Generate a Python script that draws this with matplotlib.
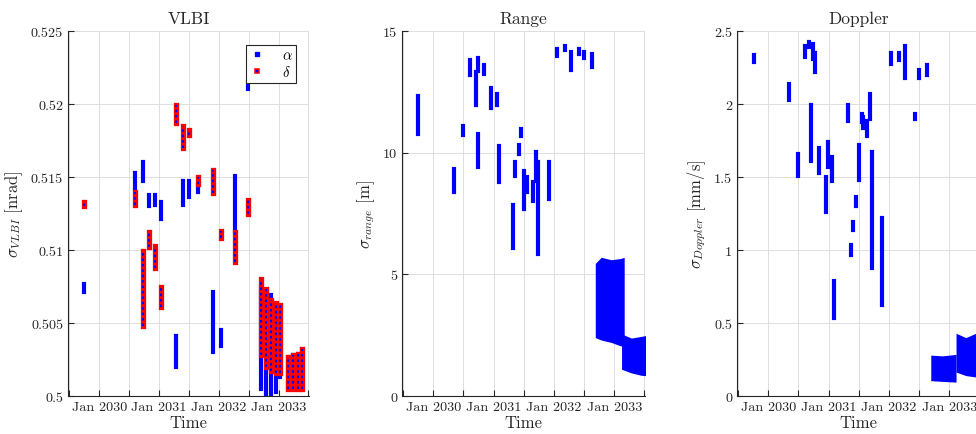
import numpy as np
import matplotlib
matplotlib.use('Agg')
import matplotlib.pyplot as plt
import matplotlib.dates as mdates
from matplotlib.lines import Line2D
from matplotlib.ticker import FuncFormatter, MultipleLocator

plt.rcParams['font.family'] = 'cmr10'
plt.rcParams['mathtext.fontset'] = 'cm'
plt.rcParams['axes.unicode_minus'] = False
plt.rcParams['axes.formatter.use_mathtext'] = True

# VLBI arcs: time, alpha range, delta range (nrad)
vlbi_t = ['2029-10-01', '2030-08-07', '2030-09-25', '2030-11-01', '2030-12-07', '2031-01-13',
          '2031-04-18', '2031-05-25', '2031-07-01', '2031-08-25', '2031-11-25', '2032-01-13',
          '2032-04-07', '2032-06-28', '2032-09-18', '2032-10-18', '2032-11-13', '2032-12-13',
          '2033-01-10', '2033-03-01', '2033-04-01', '2033-05-01', '2033-05-25']
alpha_lo = [0.5071, 0.5142, 0.5147, 0.5130, 0.5131, 0.5121, 0.5020, 0.5131, 0.5136, 0.5140,
            0.5030, 0.5034, 0.5112, 0.5210, 0.5005, 0.5001, 0.5001, 0.5003, 0.5013,
            0.5005, 0.5005, 0.5005, 0.5005]
alpha_hi = [0.5077, 0.5153, 0.5160, 0.5138, 0.5138, 0.5133, 0.5041, 0.5147, 0.5147, 0.5145,
            0.5071, 0.5045, 0.5151, 0.5215, 0.5075, 0.5060, 0.5069, 0.5060, 0.5060,
            0.5027, 0.5028, 0.5029, 0.5032]
delta_lo = [0.5130, 0.5131, 0.5048, 0.5102, 0.5088, 0.5061, 0.5187, 0.5170, 0.5179, 0.5145,
            0.5139, 0.5108, 0.5092, 0.5125, 0.5028, 0.5020, 0.5017, 0.5016, 0.5016,
            0.5005, 0.5005, 0.5005, 0.5005]
delta_hi = [0.5133, 0.5140, 0.5099, 0.5112, 0.5103, 0.5075, 0.5199, 0.5185, 0.5182, 0.5150,
            0.5155, 0.5113, 0.5112, 0.5134, 0.5080, 0.5073, 0.5066, 0.5064, 0.5062,
            0.5027, 0.5028, 0.5029, 0.5032]

# Range arcs (m)
range_t = ['2029-10-01', '2030-05-07', '2030-07-01', '2030-08-13', '2030-09-13', '2030-10-01',
           '2030-10-01', '2030-11-01', '2030-12-13', '2031-01-19', '2031-02-01', '2031-04-25',
           '2031-05-13', '2031-06-01', '2031-06-13', '2031-07-01', '2031-07-19', '2031-08-25',
           '2031-09-13', '2031-09-25', '2031-12-01', '2032-01-19', '2032-03-07', '2032-04-13',
           '2032-06-01', '2032-07-01', '2032-08-19']
range_lo = [10.77, 8.38, 10.73, 13.19, 11.96, 13.36, 9.41, 13.23, 11.83, 11.96, 8.80, 6.08,
            9.04, 9.95, 10.69, 7.69, 8.38, 8.00, 8.84, 5.84, 8.10, 13.97, 14.22, 13.40,
            14.06, 13.89, 13.52]
range_hi = [12.33, 9.33, 11.10, 13.81, 13.30, 13.90, 10.77, 13.60, 12.64, 12.40, 10.28, 7.85,
            9.60, 10.30, 10.97, 9.25, 9.00, 8.80, 10.03, 9.60, 9.60, 14.26, 14.38, 14.14,
            14.26, 14.14, 14.06]
# dense 2033 arcs (envelopes)
range_a_t = ['2032-09-07', '2032-10-13', '2032-12-13', '2033-02-07', '2033-03-01']
range_a_lo = [2.40, 2.30, 2.20, 2.06, 2.06]
range_a_hi = [5.45, 5.70, 5.60, 5.65, 5.70]
range_b_t = ['2033-02-13', '2033-04-13', '2033-06-13', '2033-07-20']
range_b_lo = [1.10, 0.95, 0.85, 0.83]
range_b_hi = [2.55, 2.38, 2.45, 2.50]

# Doppler arcs (mm/s)
dop_t = ['2029-10-03', '2030-05-04', '2030-07-01', '2030-08-13', '2030-09-04', '2030-09-16',
         '2030-10-01', '2030-10-13', '2030-11-04', '2030-12-13', '2030-12-28', '2031-01-19',
         '2031-02-04', '2031-04-28', '2031-05-16', '2031-05-28', '2031-06-16', '2031-07-04',
         '2031-07-19', '2031-07-25', '2031-08-22', '2031-09-07', '2031-09-22', '2031-11-22',
         '2032-01-13', '2032-03-04', '2032-04-10', '2032-06-04', '2032-06-28', '2032-08-16']
dop_lo = [2.285, 2.03, 1.509, 2.32, 2.388, 1.61, 2.31, 2.22, 1.53, 1.26, 1.57, 1.47,
          0.534, 1.886, 0.966, 1.137, 1.30, 1.48, 1.875, 1.836, 1.78, 1.90, 0.877, 0.623,
          2.274, 2.30, 2.176, 1.897, 2.176, 2.20]
dop_hi = [2.335, 2.137, 1.658, 2.40, 2.427, 1.99, 2.41, 2.35, 1.70, 1.50, 1.74, 1.64,
          0.79, 1.99, 1.034, 1.194, 1.363, 1.72, 1.93, 1.91, 1.886, 2.07, 1.67, 1.22,
          2.35, 2.35, 2.395, 1.93, 2.233, 2.267]
dop_a_t = ['2032-09-10', '2032-11-20', '2033-02-10']
dop_a_lo = [0.105, 0.10, 0.095]
dop_a_hi = [0.28, 0.275, 0.285]
dop_b_t = ['2033-02-10', '2033-04-10', '2033-06-10', '2033-08-01']
dop_b_lo = [0.164, 0.14, 0.13, 0.13]
dop_b_hi = [0.43, 0.40, 0.43, 0.43]


def d(lst):
    return mdates.date2num(np.array(lst, dtype='datetime64[D]'))


def fmt(v, pos):
    return '%g' % round(v, 6)


def style_axes(ax, title, ylab, ylim, ystep):
    ax.set_xlim(d(['2029-06-25'])[0], d(['2033-07-05'])[0])
    ax.set_ylim(*ylim)
    ax.yaxis.set_major_locator(MultipleLocator(ystep))
    ax.yaxis.set_major_formatter(FuncFormatter(fmt))
    ax.xaxis.set_major_locator(mdates.MonthLocator(bymonth=1))
    ax.xaxis.set_minor_locator(mdates.MonthLocator(bymonth=7))
    ax.xaxis.set_major_formatter(mdates.DateFormatter('%b %Y'))
    ax.grid(True, which='both', color='#dedede', lw=0.7)
    ax.set_axisbelow(True)
    for s in ['top', 'right']:
        ax.spines[s].set_visible(False)
    for s in ['left', 'bottom']:
        ax.spines[s].set_color('#262626')
        ax.spines[s].set_linewidth(0.8)
    ax.tick_params(which='both', direction='in', length=4, colors='#262626',
                   labelsize=10.2, width=0.8)
    ax.set_title(title, fontsize=12.5, color='#262626')
    ax.set_xlabel('Time', fontsize=12, color='#262626', labelpad=1)
    ax.set_ylabel(ylab, fontsize=12, color='#262626')


def bars(ax, t, lo, hi, color, lw):
    lc = ax.vlines(d(t), lo, hi, colors=color, linewidth=lw)
    lc.set_capstyle('projecting')
    return lc


fig = plt.figure(figsize=(9.76, 4.35), dpi=100)
h = 365 / 435
b = 38 / 435
ax1 = fig.add_axes([68 / 976, b, 241 / 976, h])
ax2 = fig.add_axes([402 / 976, b, 243 / 976, h])
ax3 = fig.add_axes([737 / 976, b, 243 / 976, h])

# VLBI
bars(ax1, vlbi_t, alpha_lo, alpha_hi, 'blue', 3.0)
bars(ax1, vlbi_t, delta_lo, delta_hi, 'red', 3.8)
ax1.vlines(d(vlbi_t), delta_lo, delta_hi, colors='blue', linewidth=1.5,
           linestyles=(0, (1.2, 1.4)))
style_axes(ax1, 'VLBI', r'$\sigma_{VLBI}$ [nrad]', (0.5, 0.525), 0.005)
handles = [Line2D([], [], ls='none', marker='s', ms=3.2, color='blue'),
           Line2D([], [], ls='none', marker='s', ms=3.5, mfc='blue', mec='red', mew=1.1)]
leg = ax1.legend(handles, [r'$\alpha$', r'$\delta$'], loc='upper right',
                 bbox_to_anchor=(0.946, 0.962), fancybox=False, edgecolor='#262626',
                 framealpha=1, handlelength=1.0, handletextpad=1.2, borderpad=0.25,
                 labelspacing=0.15, fontsize=10.5, borderaxespad=0)
leg.get_frame().set_linewidth(0.8)

# Range
bars(ax2, range_t, range_lo, range_hi, 'blue', 3.0)
ax2.fill_between(d(range_a_t), range_a_lo, range_a_hi, color='blue', lw=0)
ax2.fill_between(d(range_b_t), range_b_lo, range_b_hi, color='blue', lw=0)
style_axes(ax2, 'Range', r'$\sigma_{range}$ [m]', (0, 15), 5)

# Doppler
bars(ax3, dop_t, dop_lo, dop_hi, 'blue', 3.0)
ax3.fill_between(d(dop_a_t), dop_a_lo, dop_a_hi, color='blue', lw=0)
ax3.fill_between(d(dop_b_t), dop_b_lo, dop_b_hi, color='blue', lw=0)
style_axes(ax3, 'Doppler', r'$\sigma_{Doppler}$ [mm/s]', (0, 2.5), 0.5)

fig.savefig('out.png', dpi=100)
